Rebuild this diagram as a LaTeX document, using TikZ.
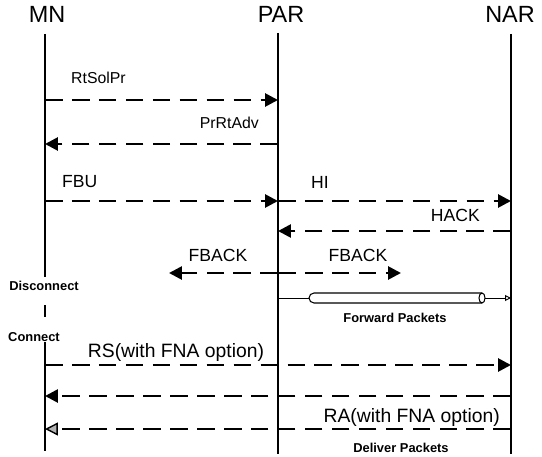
\documentclass[tikz,border=0pt]{standalone}
\usepackage{fontspec}
\setmainfont{Liberation Sans}
\usetikzlibrary{arrows.meta}

\tikzset{
  head/.style={font=\fontsize{20}{24}\selectfont, inner sep=0pt},
  lbl/.style={font=\fontsize{15}{18}\selectfont, inner sep=0pt},
  note/.style={font=\fontsize{11}{13}\selectfont\bfseries, inner sep=0pt},
  lifeline/.style={line width=1.2pt},
  msg/.style={line width=2.3pt, dash pattern=on 15pt off 8pt,
    -{Triangle[length=11pt, width=11pt]}},
  msgdata/.style={msg, -{Triangle[length=11pt, width=11pt, line width=1.2pt, fill=gray!60]}},
  pipe/.style={draw, line width=0.9pt, fill=white},
  thinmsg/.style={line width=0.8pt, -{Triangle[open, length=5pt, width=5pt]}}
}

\begin{document}
\begin{tikzpicture}[x=0.03cm, y=0.03cm]
\useasboundingbox (0,0) rectangle (542,-456);
\def\xm{45}
\def\xp{278}
\def\xn{511}

% entities
\node[head] (mn) at (47,-14) {MN};
\node[head] (par) at (281,-14) {PAR};
\node[head] (nar) at (510,-14) {NAR};

% points on the lifelines
\foreach \r/\y in {1/100, 2/144, 3/201, 4/231, 5/273, 6/298, 7/365, 8/396, 9/429}
{
  \coordinate (mn\r) at (\xm,-\y);
  \coordinate (par\r) at (\xp,-\y);
  \coordinate (nar\r) at (\xn,-\y);
}
\coordinate (mntop) at (\xm,-34);
\coordinate (mnoff) at (\xm,-277);
\coordinate (mngap1) at (\xm,-305);
\coordinate (mngap2) at (\xm,-317);
\coordinate (mnon) at (\xm,-342);
\coordinate (mnend) at (\xm,-451);
\coordinate (partop) at (\xp,-33);
\coordinate (parend) at (\xp,-454);
\coordinate (nartop) at (\xn,-34);
\coordinate (narend) at (\xn,-454);

% lifelines
\draw[lifeline] (mntop) -- (mnoff);
\draw[lifeline] (mngap1) -- (mngap2);
\draw[lifeline] (mnon) -- (mnend);
\draw[lifeline] (partop) -- (parend);
\draw[lifeline] (nartop) -- (narend);

% messages
\draw[msg] (mn1) -- (par1);
\node[lbl, anchor=west, font=\fontsize{13.5}{16}\selectfont] (rtsolpr) at (71,-78) {RtSolPr};

\draw[msg] (par2) -- (mn2);
\node[lbl, anchor=east, font=\fontsize{13.5}{16}\selectfont] (prrtadv) at (259,-123) {PrRtAdv};

\draw[msg] (mn3) -- (par3);
\node[lbl, anchor=west] (fbu) at (62,-182) {FBU};
\draw[msg] (par3) -- (nar3);
\node[lbl, anchor=west] (hi) at (311,-182) {HI};

\draw[msg] (nar4) -- (par4);
\node[lbl, anchor=east] (hack) at (480,-215) {HACK};

\coordinate (fbleft) at (169,-273);
\coordinate (fbright) at (401,-273);
\draw[msg] (par5) -- (fbleft);
\draw[msg] (par5) -- (fbright);
\node[lbl] (fback1) at (218,-255) {FBACK};
\node[lbl] (fback2) at (358,-255) {FBACK};

\node[note] (disc) at (44,-286) {Disconnect};
\node[note, anchor=west] (conn) at (8,-337) {Connect};

% forwarding tunnel
\coordinate (tunl) at (309,-298);
\coordinate (tunr) at (485,-298);
\draw[pipe] (314,-293) -- (482,-293)
  arc[start angle=90, end angle=-90, x radius=3, y radius=5]
  -- (314,-303)
  arc[start angle=270, end angle=90, x radius=5, y radius=5] -- cycle;
\draw[line width=0.9pt] (482,-293) arc[start angle=90, end angle=270, x radius=3, y radius=5];
\draw[line width=0.8pt] (par6) -- (tunl);
\draw[thinmsg] (tunr) -- (nar6);
\node[note] (fwd) at (395,-318) {Forward Packets};

\draw[msg] (mn7) -- (nar7);
\node[lbl, font=\fontsize{16.5}{19}\selectfont] (rs) at (176,-352) {RS(with FNA option)};

\draw[msg] (nar8) -- (mn8);
\node[lbl, anchor=east, font=\fontsize{16.5}{19}\selectfont] (ra) at (500,-417) {RA(with FNA option)};

\draw[msgdata] (nar9) -- (mn9);
\node[note] (dlv) at (401,-448) {Deliver Packets};
\end{tikzpicture}
\end{document}
